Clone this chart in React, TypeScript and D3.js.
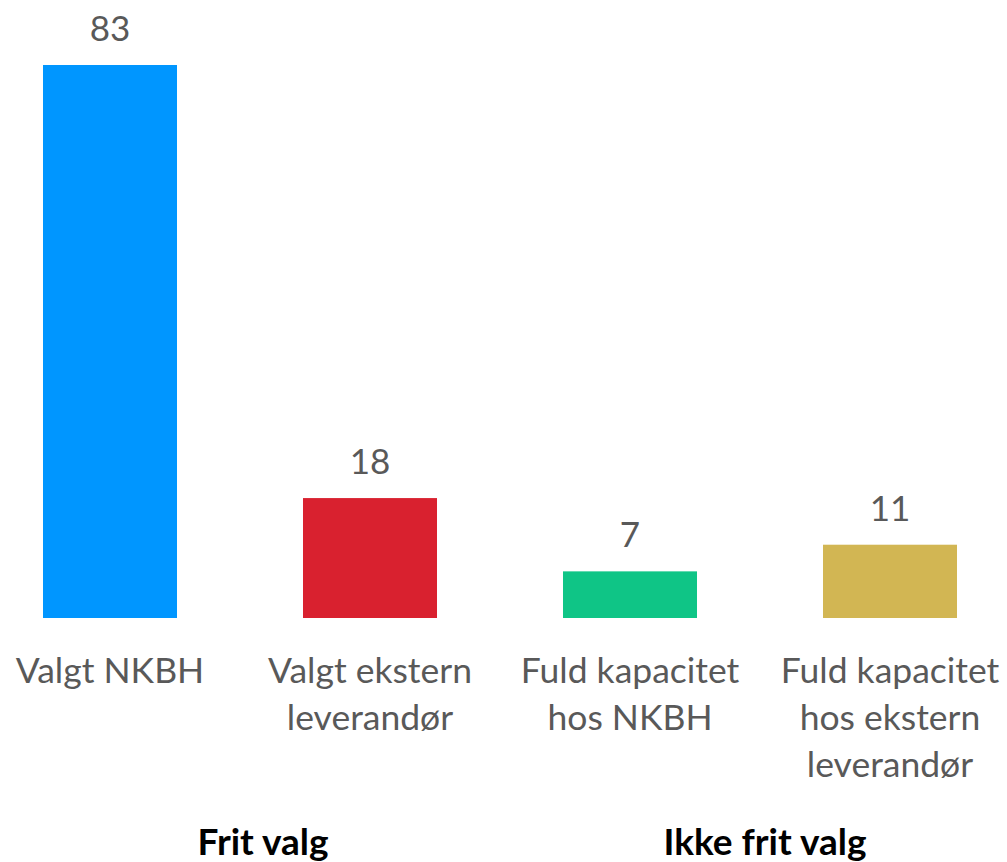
import React from "react";
import * as d3 from "d3";

const categories = ["Valgt NKBH", "Valgt ekstern leverandør", "Fuld kapacitet hos NKBH", "Fuld kapacitet hos ekstern leverandør"];
const categoryLines = [["Valgt NKBH"], ["Valgt ekstern", "leverandør"], ["Fuld kapacitet", "hos NKBH"], ["Fuld kapacitet", "hos ekstern", "leverandør"]];
const values = [83, 18, 7, 11];
const colors = ["#0096FF", "#D9212F", "#0FC586", "#D2B653"];
const groups = ["Frit valg", "Ikke frit valg"];
const groupMembers = [[0, 1], [2, 3]];
const groupDx = [23, 5];

const W = 1007;
const H = 862;
const FONT = "Lato, 'Open Sans', sans-serif";

export default function App() {
  const x = d3.scaleBand<number>().domain(d3.range(categories.length)).range([-20, 1020]).paddingInner(0.4846).paddingOuter(0.2423);
  const y = d3.scaleLinear().domain([0, 83]).range([618, 65]);
  const bw = x.bandwidth();
  return (
    <svg width={W} height={H} style={{ position: "absolute", left: 0, top: 0, background: "#fff" }}>
      {values.map((v, i) => (
        <g key={i}>
          <rect x={x(i)} y={y(v)} width={bw} height={y(0) - y(v)} fill={colors[i]} />
          <text x={(x(i) as number) + bw / 2} y={y(v) - 24} textAnchor="middle" fontFamily={FONT} fontSize={35} fill="#595959">{v}</text>
          {categoryLines[i].map((ln, j) => (
            <text key={j} x={(x(i) as number) + bw / 2} y={683 + j * 47} textAnchor="middle" fontFamily={FONT} fontSize={35.5} fill="#595959">{ln}</text>
          ))}
        </g>
      ))}
      {groups.map((g, k) => {
        const m = groupMembers[k];
        const cx = ((x(m[0]) as number) + (x(m[m.length - 1]) as number) + bw) / 2 + groupDx[k];
        return <text key={g} x={cx} y={855} textAnchor="middle" fontFamily={FONT} fontWeight="bold" fontSize={37} fill="#000">{g}</text>;
      })}
    </svg>
  );
}
